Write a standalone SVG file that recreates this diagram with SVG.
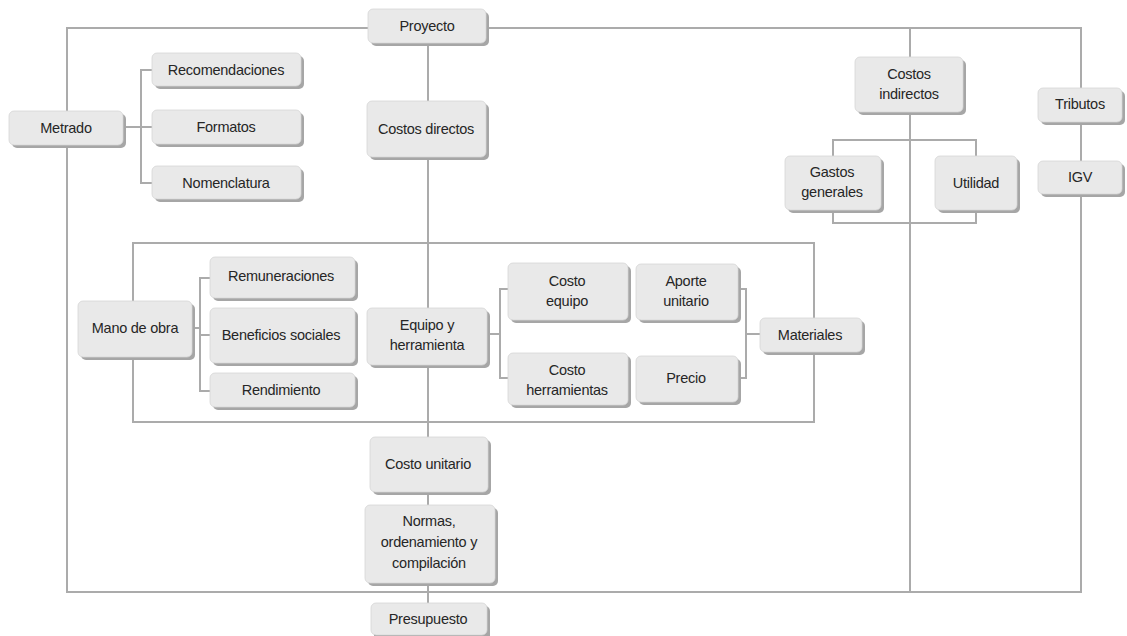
<svg xmlns="http://www.w3.org/2000/svg" width="1127" height="636" viewBox="0 0 1127 636">
  <style>
    .ln { fill: none; stroke: #ababab; stroke-width: 2; }
    .sh { fill: #a6a6a6; }
    .bx { fill: #e9e9e9; stroke: #d6d6d6; stroke-width: 0.8; }
    .tx { font-family: "Liberation Sans", Arial, sans-serif; font-size: 14.5px; letter-spacing: -0.25px; fill: #262626; text-anchor: middle; dominant-baseline: central; }
  </style>
  <rect width="1127" height="636" fill="#ffffff"/>

  <!-- connectors -->
  <g id="connectors">
    <!-- outer frame -->
    <rect class="ln" x="67" y="28" width="1014" height="564"/>
    <!-- indirect-cost column -->
    <line class="ln" x1="910" y1="28" x2="910" y2="592"/>
    <!-- direct-cost frame -->
    <rect class="ln" x="133" y="243" width="681" height="179"/>
    <!-- main spine -->
    <line class="ln" x1="428" y1="43" x2="428" y2="604"/>
    <!-- Metrado bracket -->
    <path class="ln" d="M124 127 H141 M152 70 H141 V183 H152 M141 127 H152"/>
    <!-- Mano de obra bracket -->
    <path class="ln" d="M192 328 H200 M210 278 H200 V391 H210 M200 335 H210"/>
    <!-- Equipo y herramienta bracket -->
    <path class="ln" d="M487 334 H500 M508 289 H500 V378 H508"/>
    <!-- Materiales bracket -->
    <path class="ln" d="M738 289 H746 V378 H738 M746 334 H760"/>
    <!-- Gastos generales / Utilidad loop -->
    <rect class="ln" x="833" y="140" width="143" height="83"/>
  </g>

  <!-- nodes -->
  <g id="n-proyecto">
    <rect class="sh" x="371" y="12" width="118" height="34" rx="5"/>
    <rect class="bx" x="368" y="9" width="118" height="34" rx="5"/>
    <text class="tx" x="427" y="26">Proyecto</text>
  </g>
  <g id="n-metrado">
    <rect class="sh" x="12" y="114" width="114" height="34" rx="5"/>
    <rect class="bx" x="9" y="111" width="114" height="34" rx="5"/>
    <text class="tx" x="66" y="128">Metrado</text>
  </g>
  <g id="n-recomendaciones">
    <rect class="sh" x="155" y="56" width="149" height="33" rx="5"/>
    <rect class="bx" x="152" y="53" width="149" height="33" rx="5"/>
    <text class="tx" x="226" y="70">Recomendaciones</text>
  </g>
  <g id="n-formatos">
    <rect class="sh" x="155" y="113" width="149" height="34" rx="5"/>
    <rect class="bx" x="152" y="110" width="149" height="34" rx="5"/>
    <text class="tx" x="226" y="127">Formatos</text>
  </g>
  <g id="n-nomenclatura">
    <rect class="sh" x="155" y="169" width="149" height="33" rx="5"/>
    <rect class="bx" x="152" y="166" width="149" height="33" rx="5"/>
    <text class="tx" x="226" y="183">Nomenclatura</text>
  </g>
  <g id="n-costos-directos">
    <rect class="sh" x="370" y="104" width="119" height="56" rx="5"/>
    <rect class="bx" x="367" y="101" width="119" height="56" rx="5"/>
    <text class="tx" x="426" y="129">Costos directos</text>
  </g>
  <g id="n-costos-indirectos">
    <rect class="sh" x="858" y="60" width="108" height="55" rx="5"/>
    <rect class="bx" x="855" y="57" width="108" height="55" rx="5"/>
    <text class="tx" x="909" y="74">Costos</text>
    <text class="tx" x="909" y="94">indirectos</text>
  </g>
  <g id="n-tributos">
    <rect class="sh" x="1041" y="91" width="84" height="34" rx="5"/>
    <rect class="bx" x="1038" y="88" width="84" height="34" rx="5"/>
    <text class="tx" x="1080" y="104">Tributos</text>
  </g>
  <g id="n-igv">
    <rect class="sh" x="1041" y="164" width="84" height="33" rx="5"/>
    <rect class="bx" x="1038" y="161" width="84" height="33" rx="5"/>
    <text class="tx" x="1080" y="177">IGV</text>
  </g>
  <g id="n-gastos-generales">
    <rect class="sh" x="788" y="159" width="96" height="54" rx="5"/>
    <rect class="bx" x="785" y="156" width="96" height="54" rx="5"/>
    <text class="tx" x="832" y="172">Gastos</text>
    <text class="tx" x="832" y="192">generales</text>
  </g>
  <g id="n-utilidad">
    <rect class="sh" x="938" y="159" width="82" height="54" rx="5"/>
    <rect class="bx" x="935" y="156" width="82" height="54" rx="5"/>
    <text class="tx" x="976" y="183">Utilidad</text>
  </g>
  <g id="n-mano-de-obra">
    <rect class="sh" x="81" y="304" width="114" height="56" rx="5"/>
    <rect class="bx" x="78" y="301" width="114" height="56" rx="5"/>
    <text class="tx" x="135" y="328">Mano de obra</text>
  </g>
  <g id="n-remuneraciones">
    <rect class="sh" x="213" y="260" width="145" height="41" rx="5"/>
    <rect class="bx" x="210" y="257" width="145" height="41" rx="5"/>
    <text class="tx" x="281" y="276">Remuneraciones</text>
  </g>
  <g id="n-beneficios">
    <rect class="sh" x="213" y="311" width="145" height="55" rx="5"/>
    <rect class="bx" x="210" y="308" width="145" height="55" rx="5"/>
    <text class="tx" x="281" y="335">Beneficios sociales</text>
  </g>
  <g id="n-rendimiento">
    <rect class="sh" x="213" y="376" width="145" height="34" rx="5"/>
    <rect class="bx" x="210" y="373" width="145" height="34" rx="5"/>
    <text class="tx" x="281" y="390">Rendimiento</text>
  </g>
  <g id="n-equipo-herramienta">
    <rect class="sh" x="370" y="311" width="120" height="57" rx="5"/>
    <rect class="bx" x="367" y="308" width="120" height="57" rx="5"/>
    <text class="tx" x="427" y="325">Equipo y</text>
    <text class="tx" x="427" y="345">herramienta</text>
  </g>
  <g id="n-costo-equipo">
    <rect class="sh" x="511" y="266" width="120" height="57" rx="5"/>
    <rect class="bx" x="508" y="263" width="120" height="57" rx="5"/>
    <text class="tx" x="567" y="281">Costo</text>
    <text class="tx" x="567" y="301">equipo</text>
  </g>
  <g id="n-costo-herramientas">
    <rect class="sh" x="511" y="356" width="120" height="52" rx="5"/>
    <rect class="bx" x="508" y="353" width="120" height="52" rx="5"/>
    <text class="tx" x="567" y="370">Costo</text>
    <text class="tx" x="567" y="390">herramientas</text>
  </g>
  <g id="n-aporte-unitario">
    <rect class="sh" x="639" y="267" width="102" height="56" rx="5"/>
    <rect class="bx" x="636" y="264" width="102" height="56" rx="5"/>
    <text class="tx" x="686" y="281">Aporte</text>
    <text class="tx" x="686" y="301">unitario</text>
  </g>
  <g id="n-precio">
    <rect class="sh" x="639" y="359" width="102" height="46" rx="5"/>
    <rect class="bx" x="636" y="356" width="102" height="46" rx="5"/>
    <text class="tx" x="686" y="378">Precio</text>
  </g>
  <g id="n-materiales">
    <rect class="sh" x="763" y="321" width="102" height="34" rx="5"/>
    <rect class="bx" x="760" y="318" width="102" height="34" rx="5"/>
    <text class="tx" x="810" y="335">Materiales</text>
  </g>
  <g id="n-costo-unitario">
    <rect class="sh" x="373" y="440" width="118" height="55" rx="5"/>
    <rect class="bx" x="370" y="437" width="118" height="55" rx="5"/>
    <text class="tx" x="428" y="464">Costo unitario</text>
  </g>
  <g id="n-normas">
    <rect class="sh" x="368" y="508" width="130" height="78" rx="5"/>
    <rect class="bx" x="365" y="505" width="130" height="78" rx="5"/>
    <text class="tx" x="429" y="521">Normas,</text>
    <text class="tx" x="429" y="542">ordenamiento y</text>
    <text class="tx" x="429" y="563">compilación</text>
  </g>
  <g id="n-presupuesto">
    <rect class="sh" x="374" y="606" width="116" height="34" rx="5"/>
    <rect class="bx" x="371" y="603" width="116" height="32" rx="5"/>
    <text class="tx" x="428" y="619">Presupuesto</text>
  </g>
</svg>
